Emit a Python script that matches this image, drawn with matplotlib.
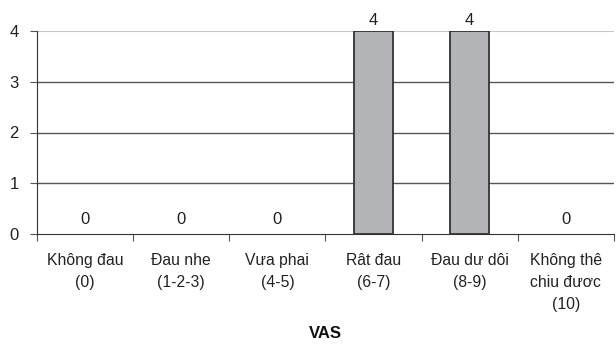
import matplotlib
matplotlib.use("Agg")
import matplotlib.pyplot as plt

categories = ["Không đau\n(0)", "Đau nhe\n(1-2-3)", "Vưa phai\n(4-5)", "Rât đau\n(6-7)",
              "Đau dư dôi\n(8-9)", "Không thê\nchiu đươc\n(10)"]
values = [0, 0, 0, 4, 4, 0]
yticks = [0, 1, 2, 3, 4]

plt.rcParams['font.family'] = ['Liberation Sans', 'DejaVu Sans']
fig = plt.figure(figsize=(6.16, 3.45), dpi=100)
ax = fig.add_axes([37 / 616, 1 - 234 / 345, (614 - 37) / 616, (234 - 31) / 345])

x = list(range(len(categories)))
lws = [1.3 if v > 0 else 0 for v in values]
ax.bar(x, values, width=0.405, color="#b3b4b8", edgecolor="#333333", linewidth=lws, zorder=3)

for xi, v in zip(x, values):
    off = 6 if v > 0 else 10
    ax.annotate(str(v), (xi, v), xytext=(0, off), textcoords="offset pixels",
                ha="center", va="baseline", fontsize=12, color="#222222")

ax.set_xlim(-0.5, len(categories) - 0.5)
ax.set_ylim(0, 4)
ax.set_yticks(yticks)
ax.set_yticklabels([str(t) for t in yticks], fontsize=12, color="#222222")
for t in yticks[1:-1]:
    ax.axhline(t, color="#555555", linewidth=1.0, zorder=1)
ax.axhline(4, color="#c8c8c8", linewidth=1.5, zorder=1)

ax.set_xticks([i - 0.5 for i in range(len(categories) + 1)])
ax.set_xticklabels([])
ax.set_xticks(x, minor=True)
ax.set_xticklabels(categories, minor=True, fontsize=11.3, color="#222222")
for lab in ax.get_xticklabels(minor=True):
    lab.set_linespacing(1.58)
ax.tick_params(axis="x", which="minor", length=0, pad=14)
ax.tick_params(axis="x", which="major", length=5, direction="out", color="#555555")
ax.tick_params(axis="y", length=5, direction="out", color="#555555", pad=8)

for s in ["top", "right"]:
    ax.spines[s].set_visible(False)
ax.spines["left"].set_color("#333333")
ax.spines["bottom"].set_color("#333333")

ax.set_xlabel("VAS", fontsize=12, fontweight="bold", labelpad=10, color="#111111")

fig.savefig("out.png", dpi=100)
